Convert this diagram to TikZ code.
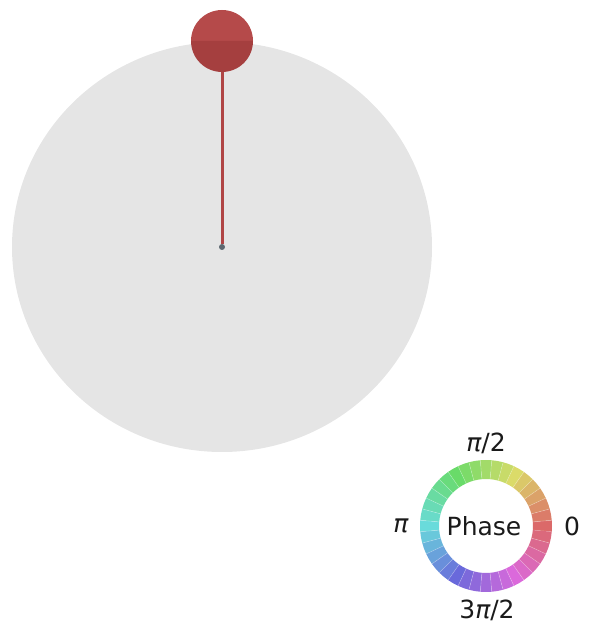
\documentclass[tikz,border=0pt]{standalone}
\usepackage{fontspec}
\setmainfont{DejaVu Sans}
\usetikzlibrary{calc}
\definecolor{sphere}{HTML}{E5E5E5}
\definecolor{ballup}{HTML}{B54A4A}
\definecolor{balldn}{HTML}{A53F3F}
\definecolor{stem}{HTML}{B04545}
\definecolor{dotc}{HTML}{5E6870}
\definecolor{txt}{HTML}{1A1A1A}
\tikzset{
  lbl/.style={font=\fontsize{25}{30}\selectfont, text=txt, inner sep=0pt},
}
\begin{document}
\begin{tikzpicture}[x=1pt,y=1pt]
\useasboundingbox (0,0) rectangle (604,632);
% sphere disc
\fill[sphere] (222,385) ellipse [x radius=210, y radius=205];
% center dot and ball
\node[circle, fill=dotc, minimum size=6pt, inner sep=0pt] (origin) at (222,385) {};
\node[circle, minimum size=62pt, inner sep=0pt] (ball) at (222,591) {};
\draw[stem, line width=3pt] (ball.center) -- (origin.north);
\fill[ballup] (ball.center) ++(31,0) arc[start angle=0, end angle=180, radius=31] -- cycle;
\fill[balldn] (ball.center) ++(-31,0) arc[start angle=180, end angle=360, radius=31] -- cycle;
% phase wheel
\coordinate (wc) at (486,106);
\foreach \i in {0,...,35} {
  \pgfmathsetmacro{\a}{\i*10-5}
  \pgfmathsetmacro{\b}{\a+10}
  \pgfmathsetmacro{\h}{mod(\a+5+360,360)}
  \definecolor{segc}{Hsb}{\h,0.52,0.86}
  \fill[segc] ($(wc)+(\a:66)$) arc[start angle=\a, end angle=\b, radius=66]
     -- ($(wc)+(\b:47)$) arc[start angle=\b, end angle=\a, radius=47] -- cycle;
  \draw[white, opacity=0.3, line width=0.6pt] ($(wc)+(\a:47)$) -- ($(wc)+(\a:66)$);
}
\node[lbl] (phase) at (484,106) {Phase};
\node[lbl] (lzero) at (572,106) {0};
\node[lbl] (lpi) at (401,106) {\itshape π};
\node[lbl] (lhalf) at (486,189) {{\itshape π}/2};
\node[lbl] (lthree) at (487,22) {3{\itshape π}/2};
\end{tikzpicture}
\end{document}
